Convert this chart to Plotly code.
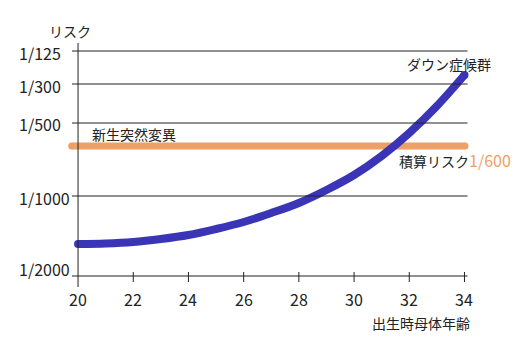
import plotly.graph_objects as go

# x: maternal age
ages = [20, 21, 22, 23, 24, 25, 26, 27, 28, 29, 30, 31, 32, 33, 34]
# y: position on the chart's risk scale (arbitrary linear units, 0 = 1/2000)
down_risk = [32, 32.5, 34, 37, 41, 47, 54, 63, 73, 86, 101, 120, 143, 170, 201]
mutation_x = [19.77, 34.02]
mutation_y = [130, 130]

x_ticks = [20, 22, 24, 26, 28, 30, 32, 34]
y_tick_pos = [225, 192, 153, 80, 0]
y_tick_text = ["1/125", "1/300", "1/500", "1/1000", "1/2000"]

BLUE = "#3a35b6"
ORANGE = "#eea067"
INK = "#222222"
FONT = "Noto Sans CJK JP"

XR = [19.6, 34.2]
YR = [-12, 234]

def px(x):
    return (x - XR[0]) / (XR[1] - XR[0])

def py(y):
    return (y - YR[0]) / (YR[1] - YR[0])

fig = go.Figure()
fig.add_trace(go.Scatter(x=mutation_x, y=mutation_y, mode="lines+markers",
                         line=dict(color=ORANGE, width=7),
                         marker=dict(color=ORANGE, size=7), hoverinfo="skip"))
fig.add_trace(go.Scatter(x=ages, y=down_risk, mode="lines",
                         line=dict(color=BLUE, width=8, shape="spline"), hoverinfo="skip"))
fig.add_trace(go.Scatter(x=[ages[0], ages[-1]], y=[down_risk[0], down_risk[-1]], mode="markers",
                         marker=dict(color=BLUE, size=8), hoverinfo="skip"))

shapes = []
shapes.append(dict(type="line", xref="x", yref="y", x0=20, x1=20, y0=-11, y1=233,
                   line=dict(color=INK, width=1)))
for yv in y_tick_pos:
    shapes.append(dict(type="line", xref="x", yref="y", x0=19.78, x1=34.11, y0=yv, y1=yv,
                       line=dict(color=INK, width=1)))
for xv in x_ticks[1:]:
    shapes.append(dict(type="line", xref="x", yref="y", x0=xv, x1=xv, y0=-6, y1=4,
                       line=dict(color=INK, width=1)))

annotations = []

def label(x, y, text, anchor="left", size=14, yshift=0, color=INK):
    annotations.append(dict(x=px(x), y=py(y), xref="paper", yref="paper", text=text,
                            showarrow=False, xanchor=anchor, yanchor="middle", yshift=yshift,
                            font=dict(family=FONT, size=size, color=color)))

for i, (pos, txt) in enumerate(zip(y_tick_pos, y_tick_text)):
    label(17.79, pos, txt, "left", 16, 7 if i == len(y_tick_pos) - 1 else -1.5)
for xv in x_ticks:
    label(xv, 0, str(xv), "center", 16, -23)

label(19.71, 245, "リスク", "center")
label(34.28, -47, "出生時母体年齢", "right")
label(35.04, 212, "ダウン症候群", "right")
label(20.43, 142, "新生突然変異", "left")
label(31.56, 116, f"積算リスク<span style='color:{ORANGE};font-size:16px'>1/600</span>", "left")

fig.update_layout(
    width=530, height=351,
    margin=dict(l=67, r=60, t=42, b=63),
    paper_bgcolor="white", plot_bgcolor="white",
    showlegend=False,
    xaxis=dict(range=XR, visible=False),
    yaxis=dict(range=YR, visible=False),
    shapes=shapes, annotations=annotations,
)
fig.write_html("out.html")
